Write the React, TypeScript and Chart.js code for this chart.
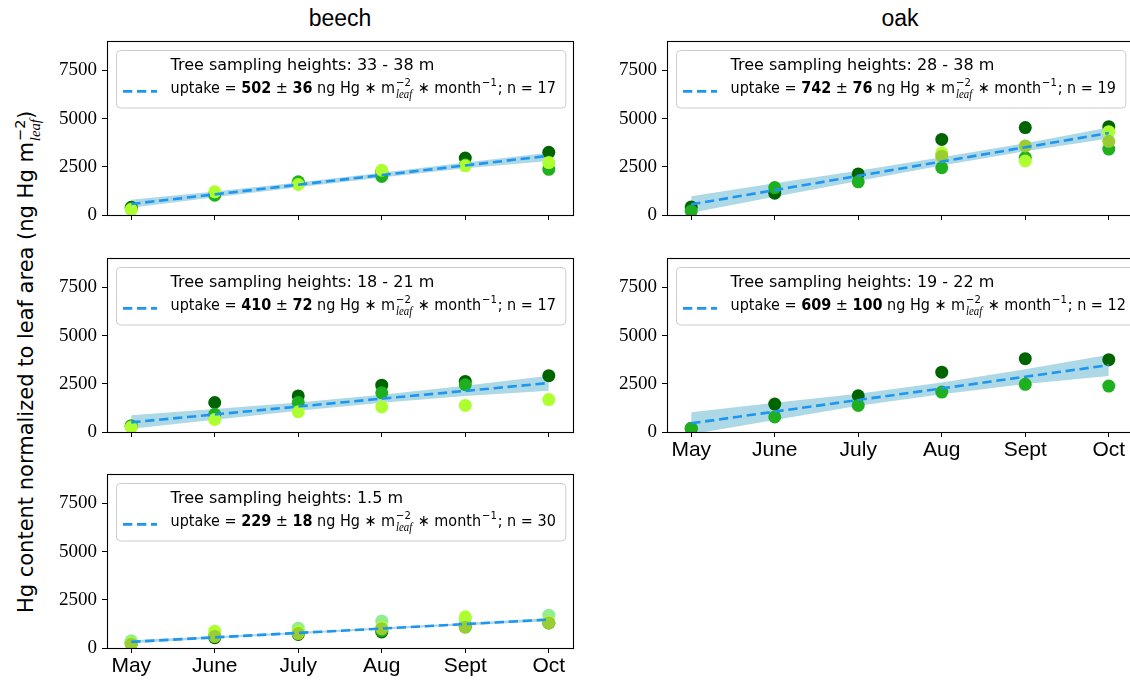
import React, { useEffect, useRef } from 'react';
import { Chart, registerables } from 'chart.js';

Chart.register(...registerables);

// ---------- data ----------
const months = ['May', 'June', 'July', 'Aug', 'Sept', 'Oct'];
const monthIdx = [0, 1, 2, 3, 4, 5];
const yTicks = [0, 2500, 5000, 7500];

const DARK = '#006400';
const GREEN = '#1fb01f';
const GY = '#adff2f';
const YG = '#9acd32';
const LG = '#90ee90';

// beech, 33 - 38 m
const beechHighDark = [400, 1100, 1650, 2250, 2950, 3250];
const beechHighGreen = [330, 1030, 1720, 2000, 2600, 2370];
const beechHighGY = [280, 1200, 1580, 2320, 2550, 2720];
const beechHighFit = [570, 1070, 1570, 2070, 2570, 3070];
const beechHighUpper = [790, 1220, 1690, 2190, 2720, 3230];
const beechHighLower = [370, 920, 1440, 1940, 2420, 2800];

// beech, 18 - 21 m
const beechMidDark = [300, 1530, 1870, 2430, 2620, 2920];
const beechMidGreen = [330, 920, 1530, 2030, 2450, null];
const beechMidGY = [250, 650, 1050, 1300, 1380, 1680];
const beechMidFit = [500, 910, 1320, 1730, 2130, 2540];
const beechMidUpper = [870, 1190, 1530, 1930, 2400, 2920];
const beechMidLower = [170, 640, 1100, 1520, 1870, 2140];

// beech, 1.5 m
const beechLowDark = [220, 530, 700, 830, 1100, 1300];
const beechLowGreen = [300, 600, 800, 900, 1200, 1320];
const beechLowLG = [370, 700, 1030, 1400, 1530, 1700];
const beechLowGY = [250, 870, 850, 1070, 1620, 1350];
const beechLowYG = [200, 600, 750, 1000, 1080, 1300];
const beechLowFit = [320, 550, 780, 1010, 1240, 1470];
const beechLowUpper = [400, 610, 830, 1060, 1300, 1550];
const beechLowLower = [240, 490, 730, 960, 1180, 1390];

// oak, 28 - 38 m
const oakHighDark = [420, 1130, 2130, 3920, 4530, 4580];
const oakHighGreen = [200, 1420, 1720, 2450, 2980, 3420];
const oakHighYG = [null, null, null, 3050, 3580, 3820];
const oakHighGY = [null, null, null, 3220, 2800, 4320];
const oakHighFit = [550, 1290, 2030, 2770, 3510, 4250];
const oakHighUpper = [970, 1640, 2300, 2990, 3720, 4540];
const oakHighLower = [120, 940, 1760, 2560, 3300, 3960];

// oak, 19 - 22 m
const oakMidDark = [180, 1450, 1880, 3100, 3800, 3750];
const oakMidGreen = [200, 780, 1380, 2070, 2470, 2380];
const oakMidFit = [450, 1055, 1660, 2260, 2865, 3470];
const oakMidUpper = [1030, 1520, 1980, 2560, 3250, 4000];
const oakMidLower = [-120, 620, 1360, 1960, 2490, 2900];

type Series = { color: string; values: (number | null)[] };
type PanelDef = {
  heights: string;
  slope: string;
  err: string;
  n: string;
  series: Series[];
  fit: number[];
  upper: number[];
  lower: number[];
  col: number;
  row: number;
  showX: boolean;
};

const panels: PanelDef[] = [
  {
    heights: '33 - 38 m', slope: '502', err: '36', n: '17',
    series: [
      { color: DARK, values: beechHighDark },
      { color: GREEN, values: beechHighGreen },
      { color: GY, values: beechHighGY },
    ],
    fit: beechHighFit, upper: beechHighUpper, lower: beechHighLower,
    col: 0, row: 0, showX: false,
  },
  {
    heights: '18 - 21 m', slope: '410', err: '72', n: '17',
    series: [
      { color: DARK, values: beechMidDark },
      { color: GREEN, values: beechMidGreen },
      { color: GY, values: beechMidGY },
    ],
    fit: beechMidFit, upper: beechMidUpper, lower: beechMidLower,
    col: 0, row: 1, showX: false,
  },
  {
    heights: '1.5 m', slope: '229', err: '18', n: '30',
    series: [
      { color: DARK, values: beechLowDark },
      { color: GREEN, values: beechLowGreen },
      { color: LG, values: beechLowLG },
      { color: GY, values: beechLowGY },
      { color: YG, values: beechLowYG },
    ],
    fit: beechLowFit, upper: beechLowUpper, lower: beechLowLower,
    col: 0, row: 2, showX: true,
  },
  {
    heights: '28 - 38 m', slope: '742', err: '76', n: '19',
    series: [
      { color: DARK, values: oakHighDark },
      { color: GREEN, values: oakHighGreen },
      { color: GY, values: oakHighGY },
      { color: YG, values: oakHighYG },
    ],
    fit: oakHighFit, upper: oakHighUpper, lower: oakHighLower,
    col: 1, row: 0, showX: false,
  },
  {
    heights: '19 - 22 m', slope: '609', err: '100', n: '12',
    series: [
      { color: DARK, values: oakMidDark },
      { color: GREEN, values: oakMidGreen },
    ],
    fit: oakMidFit, upper: oakMidUpper, lower: oakMidLower,
    col: 1, row: 1, showX: true,
  },
];

// ---------- layout ----------
const COL_LEFT = [107, 667];
const ROW_TOP = [35, 252, 468];
const AREA_W = 466;
const AREA_H = 180;
const YW = 60;
const XH = 45;
const PT = 10;
const PR = 50;

const SANS = '"Liberation Sans", "DejaVu Sans", sans-serif';
const DSANS = '"DejaVu Sans", "Liberation Sans", sans-serif';
const SERIF = '"Liberation Serif", "DejaVu Serif", serif';
const LINE_BLUE = '#1e96f0';
const BAND = '#add8e6';

const FS = 16;
const F_REG = `${FS}px ${DSANS}`;
const F_BOLD = `bold ${FS}px ${DSANS}`;
const F_SMALL = `${FS * 0.7}px ${DSANS}`;
const F_ITAL = `italic ${FS * 0.75}px ${SERIF}`;
const LINE2_SX = 0.9;

type Seg = { t: string; font: string } | { sup: string; sub: string };

function richText(ctx: CanvasRenderingContext2D, segs: Seg[], x: number, y: number, draw: boolean) {
  let cx = x;
  for (const s of segs) {
    if ('sup' in s) {
      ctx.font = F_SMALL;
      const w1 = ctx.measureText(s.sup).width;
      ctx.font = F_ITAL;
      const w2 = s.sub ? ctx.measureText(s.sub).width : 0;
      if (draw) {
        ctx.font = F_SMALL;
        ctx.fillText(s.sup, cx + 1, y - FS * 0.45);
        if (s.sub) {
          ctx.font = F_ITAL;
          ctx.fillText(s.sub, cx + 1, y + FS * 0.3);
        }
      }
      cx += Math.max(w1, w2) + 2;
    } else {
      ctx.font = s.font;
      const w = ctx.measureText(s.t).width;
      if (draw) ctx.fillText(s.t, cx, y);
      cx += w;
    }
  }
  return cx - x;
}

function Panel({ def }: { def: PanelDef }) {
  const ref = useRef<HTMLCanvasElement>(null);
  const width = YW + AREA_W + PR;
  const height = PT + AREA_H + XH;
  const left = COL_LEFT[def.col] - YW;
  const top = ROW_TOP[def.row] - PT;

  useEffect(() => {
    if (!ref.current) return;
    const pts = (vals: (number | null)[]) => monthIdx.map((i) => ({ x: i, y: vals[i] }));

    const datasets: any[] = [];
    datasets.push({
      data: pts(def.fit),
      borderColor: LINE_BLUE,
      borderWidth: 2.6,
      borderDash: [9.3, 4.7],
      pointRadius: 0,
      fill: false,
      clip: 0,
    });
    const scatter = [...def.series].reverse();
    for (const s of scatter) {
      datasets.push({
        data: pts(s.values),
        showLine: false,
        pointRadius: 6.5,
        pointBorderWidth: 0,
        pointBackgroundColor: s.color,
        backgroundColor: s.color,
        borderColor: s.color,
        clip: 0,
      });
    }
    datasets.push({
      data: pts(def.upper),
      borderColor: 'transparent',
      borderWidth: 0,
      pointRadius: 0,
      backgroundColor: BAND,
      fill: '+1',
      clip: 0,
    });
    datasets.push({
      data: pts(def.lower),
      borderColor: 'transparent',
      borderWidth: 0,
      pointRadius: 0,
      fill: false,
      clip: 0,
    });

    const gridOpts = {
      display: true,
      drawOnChartArea: false,
      drawTicks: true,
      tickLength: 5,
      color: '#000',
      tickColor: '#000',
      lineWidth: 1,
    };

    const chart = new Chart(ref.current, {
      type: 'line',
      data: { datasets },
      options: {
        animation: false,
        responsive: false,
        devicePixelRatio: 1,
        layout: { padding: { left: 0, top: PT, right: PR, bottom: 0 } },
        plugins: { legend: { display: false }, tooltip: { enabled: false } },
        events: [],
        scales: {
          x: {
            type: 'linear',
            min: -0.29,
            max: 5.29,
            afterBuildTicks: (s: any) => {
              s.ticks = monthIdx.map((v) => ({ value: v }));
            },
            afterFit: (s: any) => {
              s.height = XH;
            },
            ticks: {
              autoSkip: false,
              maxRotation: 0,
              padding: 1,
              color: '#000',
              font: { family: SANS, size: 21 },
              callback: (v: any) => (def.showX ? months[v] : ''),
            },
            grid: gridOpts,
            border: { display: false },
          },
          y: {
            type: 'linear',
            min: 0,
            max: 9000,
            afterBuildTicks: (s: any) => {
              s.ticks = yTicks.map((v) => ({ value: v }));
            },
            afterFit: (s: any) => {
              s.width = YW;
            },
            ticks: {
              padding: 5,
              color: '#000',
              font: { family: SERIF, size: 19 },
              callback: (v: any) => String(v),
            },
            grid: gridOpts,
            border: { display: false },
          },
        },
      },
      plugins: [
        {
          id: 'frameAndLegend',
          afterDatasetsDraw(c: any) {
            const ctx: CanvasRenderingContext2D = c.ctx;
            const a = c.chartArea;
            ctx.save();
            // frame
            const l = Math.round(a.left) + 0.5;
            const t = Math.round(a.top) + 0.5;
            const r = Math.round(a.right) + 0.5;
            const b = Math.round(a.bottom) + 0.5;
            ctx.strokeStyle = '#000';
            ctx.lineWidth = 1.1;
            ctx.strokeRect(l, t, r - l, b - t);

            // legend
            const line2: Seg[] = [
              { t: 'uptake = ', font: F_REG },
              { t: def.slope, font: F_BOLD },
              { t: ' ± ', font: F_REG },
              { t: def.err, font: F_BOLD },
              { t: ' ng Hg ∗ m', font: F_REG },
              { sup: '−2', sub: 'leaf' },
              { t: ' ∗ month', font: F_REG },
              { sup: '−1', sub: '' },
              { t: '; n = ' + def.n, font: F_REG },
            ];
            const line1: Seg[] = [{ t: 'Tree sampling heights: ' + def.heights, font: F_REG }];
            const w1 = richText(ctx, line1, 0, 0, false);
            const w2 = richText(ctx, line2, 0, 0, false) * LINE2_SX;
            const bx = a.left + 9;
            const by = a.top + 8.5;
            const textOff = 54.5;
            const bw = textOff + Math.max(w1, w2) + 9.5;
            const bh = 57.5;
            ctx.beginPath();
            (ctx as any).roundRect(Math.round(bx) + 0.5, Math.round(by) + 0.5, bw, bh, 4);
            ctx.fillStyle = 'rgba(255,255,255,0.8)';
            ctx.fill();
            ctx.strokeStyle = '#cccccc';
            ctx.lineWidth = 1;
            ctx.stroke();

            ctx.fillStyle = '#000';
            ctx.textBaseline = 'alphabetic';
            ctx.textAlign = 'left';
            richText(ctx, line1, bx + textOff, by + 20, true);
            ctx.save();
            ctx.translate(bx + textOff, by + 43.5);
            ctx.scale(LINE2_SX, 1);
            richText(ctx, line2, 0, 0, true);
            ctx.restore();

            ctx.beginPath();
            ctx.setLineDash([9.3, 4.7]);
            ctx.strokeStyle = LINE_BLUE;
            ctx.lineWidth = 2.6;
            ctx.moveTo(bx + 7, by + 41.5);
            ctx.lineTo(bx + 41, by + 41.5);
            ctx.stroke();
            ctx.setLineDash([]);
            ctx.restore();
          },
        },
      ],
    } as any);
    return () => chart.destroy();
  }, [def]);

  return (
    <canvas
      ref={ref}
      width={width}
      height={height}
      style={{ position: 'absolute', left, top, width, height }}
    />
  );
}

export default function App() {
  return (
    <div
      style={{
        position: 'absolute',
        left: 0,
        top: 0,
        width: 1130,
        height: 680,
        overflow: 'hidden',
        background: '#fff',
        fontFamily: SANS,
      }}
    >
      <div
        style={{
          position: 'absolute',
          left: COL_LEFT[0] + AREA_W / 2,
          top: 18,
          transform: 'translate(-50%, -50%)',
          fontSize: 23,
          whiteSpace: 'nowrap',
        }}
      >
        beech
      </div>
      <div
        style={{
          position: 'absolute',
          left: COL_LEFT[1] + AREA_W / 2,
          top: 18,
          transform: 'translate(-50%, -50%)',
          fontSize: 23,
          whiteSpace: 'nowrap',
        }}
      >
        oak
      </div>
      <div
        style={{
          position: 'absolute',
          left: 28,
          top: 362,
          transform: 'translate(-50%, -50%) rotate(-90deg)',
          fontSize: 21,
          fontFamily: DSANS,
          whiteSpace: 'nowrap',
          lineHeight: 1.2,
        }}
      >
        Hg content normalized to leaf area (ng Hg m
        <span
          style={{
            display: 'inline-flex',
            flexDirection: 'column',
            fontSize: '0.7em',
            lineHeight: 1,
            verticalAlign: '0.55em',
            marginLeft: 1,
          }}
        >
          <span>−2</span>
          <span style={{ fontStyle: 'italic', fontFamily: SERIF }}>leaf</span>
        </span>
        )
      </div>
      {panels.map((p, i) => (
        <Panel key={i} def={p} />
      ))}
    </div>
  );
}
